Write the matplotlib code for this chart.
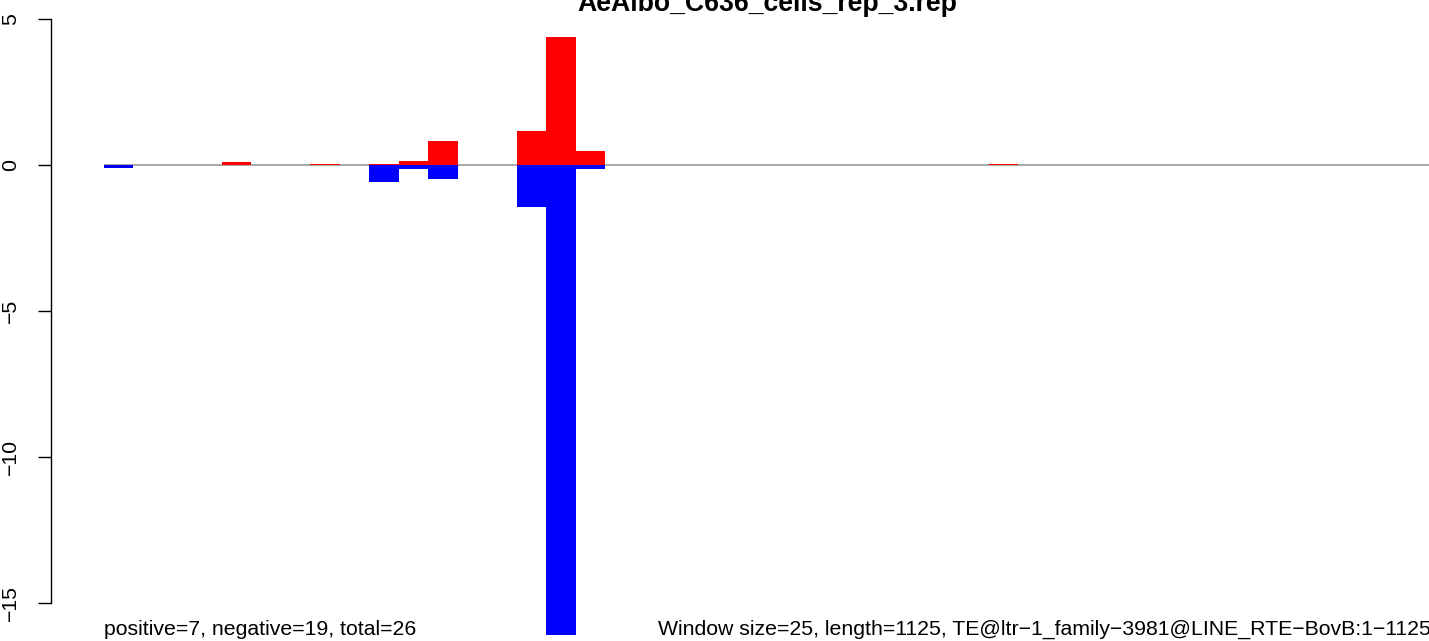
import matplotlib
matplotlib.use("Agg")
import matplotlib.pyplot as plt
import numpy as np

plt.rcParams['font.family'] = ['Liberation Sans', 'DejaVu Sans']

# 45 windows of 25 bp over a 1125 bp element
title = "AeAlbo_C636_cells_rep_3.rep"
left_note = "positive=7, negative=19, total=26"
right_note = "Window size=25, length=1125, TE@ltr\u22121_family\u22123981@LINE_RTE\u2212BovB:1\u22121125"

pos_vals = [0, 0, 0, 0, 0.11, 0, 0, 0.05, 0, 0.05, 0.14, 0.82, 0, 0, 1.16,
            4.38, 0.48, 0, 0, 0, 0, 0, 0, 0, 0, 0, 0, 0, 0, 0,
            0.05, 0, 0, 0, 0, 0, 0, 0, 0, 0, 0, 0, 0, 0, 0]
neg_vals = [-0.09, 0, 0, 0, 0, 0, 0, 0, 0, -0.58, -0.14, -0.48, 0, 0, -1.43,
            -16.1, -0.14, 0, 0, 0, 0, 0, 0, 0, 0, 0, 0, 0, 0, 0,
            0, 0, 0, 0, 0, 0, 0, 0, 0, 0, 0, 0, 0, 0, 0]
yticks = [5, 0, -5, -10, -15]

W, H = 1429, 641
fig = plt.figure(figsize=(W / 100, H / 100), dpi=100)

# plot region in pixels: bars from x=104 to 1431, zero line at y=165, 29.2 px per unit
x0, x1 = 104, 1431
ppu = 29.2
y_zero = 165
ax = fig.add_axes([x0 / W, 0, (x1 - x0) / W, 1])
ax.set_xlim(0, len(pos_vals))
ax.set_ylim(-(H - y_zero) / ppu, y_zero / ppu)

idx = np.arange(len(pos_vals))
ax.axhline(0, color='#999999', lw=1.2, zorder=1)
ax.bar(idx, pos_vals, width=1.0, align='edge', color='red', lw=0, zorder=2)
ax.bar(idx, neg_vals, width=1.0, align='edge', color='blue', lw=0, zorder=2)

for side in ['top', 'right', 'bottom']:
    ax.spines[side].set_visible(False)
ax.spines['left'].set_position(('outward', (x0 - 50.5) * 0.72))
ax.spines['left'].set_bounds(-15, 5)
ax.spines['left'].set_linewidth(1.0)
ax.set_xticks([])
ax.set_yticks(yticks)
ax.set_yticklabels([str(t).replace('-', '\u2212') for t in yticks],
                   rotation=90, va='center', fontsize=15.3)
ax.tick_params(axis='y', length=9.7, width=1.0, pad=12)

fig.text((x0 + x1) / 2 / W, 1 - 11 / H, title, ha='center', va='baseline',
         fontsize=19.2, fontweight='bold')
fig.text(x0 / W, 1 - 635 / H, left_note, ha='left', va='baseline', fontsize=15.3)
fig.text(x1 / W, 1 - 635 / H, right_note, ha='right', va='baseline', fontsize=15.3)

fig.savefig("out.png", dpi=100)
